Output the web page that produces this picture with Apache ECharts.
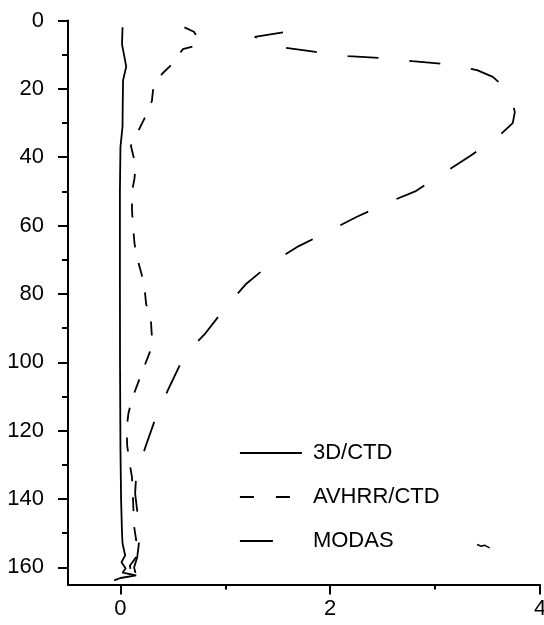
<!DOCTYPE html>
<html>
<head>
<meta charset="utf-8">
<script src="https://cdn.jsdelivr.net/npm/echarts@6/dist/echarts.min.js"></script>
<style>html,body{margin:0;padding:0;background:#fff;}#c{width:544px;height:625px;}</style>
</head>
<body>
<div id="c"></div>
<script>
// Depth (y, inverted) vs value (x)
var seriesNames = ['3D/CTD', 'AVHRR/CTD', 'MODAS'];
var xTickLabels = [0, 2, 4];
var xMinorTicks = [1, 3];
var yTickLabels = [0, 20, 40, 60, 80, 100, 120, 140, 160];
var yMinorTicks = [10, 30, 50, 70, 90, 110, 130, 150];

// [value, depth]
var ctd3d = [
  [0.02, 2], [0.015, 7], [0.04, 11], [0.055, 13.5], [0.025, 17.5], [0.022, 24],
  [0.02, 31], [0.0, 37], [-0.005, 50], [-0.005, 75], [-0.004, 100], [0.0, 125],
  [0.006, 140], [0.015, 150], [0.02, 153], [0.045, 156.5], [0.01, 158.5],
  [0.05, 160.3], [0.02, 161.5], [0.15, 162.3], [0.0, 163.1], [-0.06, 163.8]
];
var avhrr = [
  [0.61, 2], [0.70, 3.3], [0.75, 5.5], [0.71, 7.4], [0.595, 8.4], [0.55, 10.3],
  [0.5, 12.5], [0.4, 15.5], [0.33, 18.5], [0.31, 20.5], [0.30, 23.5], [0.27, 26],
  [0.235, 28.3], [0.17, 32.3], [0.12, 35], [0.10, 36.7], [0.134, 41], [0.14, 44],
  [0.134, 46.2], [0.11, 50.1], [0.11, 55.3], [0.117, 59.2], [0.134, 65.2],
  [0.156, 69.2], [0.2, 74], [0.23, 78.4], [0.245, 83], [0.29, 87.5], [0.30, 92.6],
  [0.28, 97], [0.22, 101.8], [0.17, 105.8], [0.11, 110.8], [0.076, 115],
  [0.06, 119], [0.064, 124.3], [0.086, 129.2], [0.11, 133.6], [0.12, 140],
  [0.13, 148], [0.15, 152], [0.15, 157], [0.09, 159.5], [0.10, 161.5], [0.15, 162.4]
];
var modas = [
  [1.55, 3.5], [1.28, 4.8], [1.57, 8], [1.86, 9.2], [2.17, 10.4], [2.48, 11],
  [2.78, 11.9], [3.08, 12.7], [3.4, 14.5], [3.55, 16.5], [3.65, 19.2], [3.73, 23],
  [3.76, 26.8], [3.74, 30], [3.6, 34], [3.33, 39.7], [3.08, 44.7], [2.81, 50],
  [2.6, 52.6], [2.25, 57.5], [1.99, 61.6], [1.7, 66], [1.45, 70.7], [1.2, 77],
  [1.0, 84], [0.81, 91.5], [0.61, 98], [0.47, 107], [0.35, 115], [0.24, 124.6],
  [0.15, 133], [0.14, 138.4], [0.17, 146], [0.18, 152], [0.16, 157], [0.13, 160],
  [0.15, 162.4]
];
var speck = [[3.40, 153.3], [3.44, 153.8], [3.47, 153.5], [3.52, 154.3]];

var FONT = 'Liberation Sans, Arial, sans-serif';
var chart = echarts.init(document.getElementById('c'), null, {renderer: 'canvas'});
var lineBase = {type: 'line', symbol: 'none', smooth: false, silent: true, animation: false, xAxisIndex: 0, yAxisIndex: 0};
var hiddenSym = {opacity: 0, color: '#000'};
chart.setOption({
  backgroundColor: '#fff',
  animation: false,
  grid: {left: 68, right: 4, top: 20.5, bottom: 40.5, containLabel: false, outerBoundsMode: 'none'},
  legend: {
    orient: 'vertical', left: 239, top: 442, padding: 0,
    itemWidth: 62, itemHeight: 22, itemGap: 22,
    itemStyle: hiddenSym,
    textStyle: {fontFamily: FONT, fontSize: 22, color: '#000', lineHeight: 22, padding: [0, 0, 0, 6]},
    data: [
      {name: '3D/CTD', itemStyle: hiddenSym, lineStyle: {type: 'solid', width: 1.8, color: '#000', opacity: 1}},
      {name: 'AVHRR/CTD', itemStyle: hiddenSym, lineStyle: {type: [14, 22], width: 1.8, color: '#000', opacity: 1}},
      {name: 'MODAS', itemStyle: hiddenSym, lineStyle: {type: [33, 60], width: 1.8, color: '#000', opacity: 1}}
    ]
  },
  xAxis: [{
    type: 'value', min: -0.5, max: 4, position: 'bottom',
    axisLine: {show: true, onZero: false, lineStyle: {color: '#000', width: 2}},
    axisTick: {show: true, inside: false, length: 10, customValues: xTickLabels, lineStyle: {color: '#000', width: 2}},
    axisLabel: {show: true, customValues: xTickLabels, margin: 13, fontFamily: FONT, fontSize: 22, color: '#000'},
    splitLine: {show: false}
  }, {
    type: 'value', min: -0.5, max: 4, position: 'bottom',
    axisLine: {show: false, onZero: false},
    axisTick: {show: true, inside: false, length: 5, customValues: xMinorTicks, lineStyle: {color: '#000', width: 2}},
    axisLabel: {show: false},
    splitLine: {show: false}
  }],
  yAxis: [{
    type: 'value', min: 0, max: 165, inverse: true, position: 'left',
    axisLine: {show: true, onZero: false, lineStyle: {color: '#000', width: 2}},
    axisTick: {show: true, inside: false, length: 10, customValues: yTickLabels, lineStyle: {color: '#000', width: 2}},
    axisLabel: {show: true, customValues: yTickLabels, margin: 24, fontFamily: FONT, fontSize: 22, color: '#000'},
    splitLine: {show: false}
  }, {
    type: 'value', min: 0, max: 165, inverse: true, position: 'left',
    axisLine: {show: false, onZero: false},
    axisTick: {show: true, inside: false, length: 6, customValues: yMinorTicks, lineStyle: {color: '#000', width: 2}},
    axisLabel: {show: false},
    splitLine: {show: false}
  }],
  series: [
    Object.assign({}, lineBase, {name: seriesNames[0], data: ctd3d, lineStyle: {color: '#000', width: 1.8, type: 'solid'}, itemStyle: {color: '#000'}}),
    Object.assign({}, lineBase, {name: seriesNames[1], data: avhrr, lineStyle: {color: '#000', width: 1.8, type: [14, 16]}, itemStyle: {color: '#000'}}),
    Object.assign({}, lineBase, {name: seriesNames[2], data: modas, lineStyle: {color: '#000', width: 1.8, type: [31, 31]}, itemStyle: {color: '#000'}}),
    Object.assign({}, lineBase, {name: 'speck', data: speck, lineStyle: {color: '#000', width: 1.5, type: 'solid'}, itemStyle: {color: '#000'}})
  ]
});
</script>
</body>
</html>
